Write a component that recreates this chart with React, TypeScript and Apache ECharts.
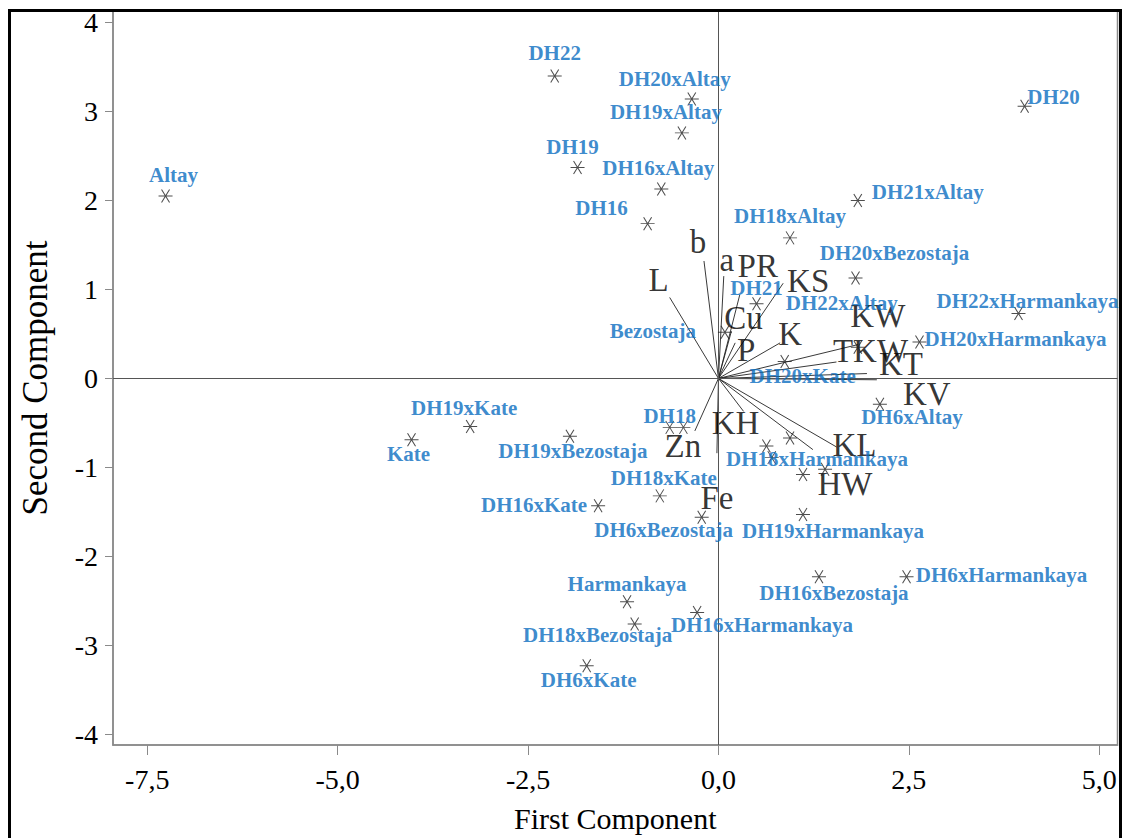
import React, { useEffect, useRef } from "react";
import * as echarts from "echarts";

// Genotype scores (first and second principal components)
const genotypes = [
  "Altay", "DH22", "DH20xAltay", "DH19xAltay", "DH19", "DH16xAltay", "DH16",
  "DH18xAltay", "DH20", "DH21xAltay", "DH20xBezostaja", "DH21", "DH22xAltay",
  "DH22xHarmankaya", "DH20xHarmankaya", "Bezostaja", "DH20xKate", "DH6xAltay",
  "DH19xKate", "Kate", "DH19xBezostaja", "DH18", "DH18xHarmankaya", "DH18xKate",
  "DH16xKate", "DH6xBezostaja", "DH19xHarmankaya", "Harmankaya", "DH16xBezostaja",
  "DH6xHarmankaya", "DH18xBezostaja", "DH16xHarmankaya", "DH6xKate",
];
const pc1 = [
  -7.26, -2.15, -0.35, -0.48, -1.85, -0.75, -0.93,
  0.94, 4.02, 1.83, 1.80, 0.50, 1.83,
  3.94, 2.64, 0.085, 0.87, 2.12,
  -3.26, -4.03, -1.95, -0.64, 1.11, -0.77,
  -1.58, -0.22, 1.11, -1.20, 1.32,
  2.47, -1.10, -0.28, -1.73,
];
const pc2 = [
  2.05, 3.40, 3.14, 2.76, 2.37, 2.13, 1.74,
  1.58, 3.06, 2.00, 1.13, 0.84, 0.35,
  0.73, 0.41, 0.52, 0.19, -0.29,
  -0.54, -0.69, -0.65, -0.55, -1.08, -1.32,
  -1.43, -1.56, -1.53, -2.51, -2.23,
  -2.23, -2.76, -2.63, -3.23,
];
// label placement (pixels, relative to the point)
const genotypeLabelOffsets = [
  [8, -21], [0, -23], [-17, -20], [-16, -21], [-5, -21], [-3, -21], [-46, -16],
  [0, -22], [29, -9], [70, -9], [39, -25], [0, -16], [-16, -44],
  [9, -12], [96, -3], [-72, -1], [18, 14], [32, 13],
  [-6, -18], [-3, 14], [3, 15], [0, -11], [14, -16], [4, -18],
  [-64, -1], [-38, 13], [30, 16], [0, -18], [15, 16],
  [95, -2], [-37, 11], [65, 13], [2, 14],
];

// Points without visible labels
const unlabeledPc1 = [-0.46, 0.63, 0.94, 0.70, 1.40];
const unlabeledPc2 = [-0.55, -0.76, -0.67, -0.89, -1.02];

// Trait loading vectors
const traits = ["L", "b", "a", "PR", "KS", "Cu", "P", "K", "KW", "TKW", "KT", "KV", "KH", "KL", "HW", "Zn", "Fe"];
const traitX = [-0.64, -0.19, 0.07, 0.28, 0.85, 0.17, 0.22, 0.81, 1.83, 1.55, 1.95, 2.08, 0.33, 1.55, 1.24, -0.31, -0.02];
const traitY = [0.91, 1.32, 1.15, 0.94, 1.07, 0.53, 0.40, 0.40, 0.38, 0.185, 0.055, -0.015, -0.37, -0.77, -0.80, -0.59, -0.84];
const traitLabelOffsets = [
  [-11, -17], [-6, -19], [3, -16], [18, -29], [25, -2], [12, -13], [11, 7], [10, -9],
  [20, -29], [34, -11], [34, -10], [50, 14], [-8, 12], [18, -2], [32, 34], [-12, 15], [0, 45],
];

const xTicks = [-7.5, -5, -2.5, 0, 2.5, 5];
const yTicks = [-4, -3, -2, -1, 0, 1, 2, 3, 4];

const SERIF = "Liberation Serif";
const BLUE = "#0a6dbf";
const ASTERISK = "path://M0,7L14,7M3,0L11,14M3,14L11,0";

export default function App() {
  const ref = useRef<HTMLDivElement>(null);
  useEffect(() => {
    if (!ref.current) return;
    const chart = echarts.init(ref.current, null, { renderer: "svg" });
    const option: any = {
      animation: false,
      backgroundColor: "#fff",
      grid: {
        left: 113,
        right: 8.5,
        top: 11,
        bottom: 90,
        show: true,
        borderColor: "#8a8a8a",
        borderWidth: 1.5,
      },
      xAxis: {
        type: "value",
        min: -7.95,
        max: 5.24,
        name: "First Component",
        nameLocation: "middle",
        nameGap: 58,
        nameTextStyle: { fontFamily: SERIF, fontSize: 30, color: "#000" },
        axisLine: { show: true, onZero: false, lineStyle: { color: "#8a8a8a", width: 1.5 } },
        axisTick: { show: true, length: 10, customValues: xTicks, lineStyle: { color: "#8a8a8a" } },
        axisLabel: {
          customValues: xTicks,
          margin: 20,
          fontFamily: SERIF,
          fontSize: 28,
          color: "#000",
          formatter: (v: number) => v.toFixed(1).replace(".", ","),
        },
        splitLine: { show: false },
      },
      yAxis: {
        type: "value",
        min: -4.12,
        max: 4.13,
        name: "Second Component",
        nameLocation: "middle",
        nameGap: 60,
        nameTextStyle: { fontFamily: SERIF, fontSize: 35, color: "#000" },
        axisLine: { show: true, onZero: false, lineStyle: { color: "#8a8a8a", width: 1.5 } },
        axisTick: { show: true, length: 8, customValues: yTicks, lineStyle: { color: "#8a8a8a" } },
        axisLabel: {
          customValues: yTicks,
          margin: 15,
          fontFamily: SERIF,
          fontSize: 28,
          color: "#000",
          formatter: (v: number) => String(Math.round(v)),
        },
        splitLine: { show: false },
      },
      series: [
        {
          type: "lines",
          coordinateSystem: "cartesian2d",
          silent: true,
          z: 3,
          lineStyle: { color: "#222", width: 0.9, opacity: 1 },
          data: traits.map((t, i) => ({ name: t, coords: [[0, 0], [traitX[i], traitY[i]]] })),
        },
        {
          type: "scatter",
          silent: true,
          z: 4,
          symbolSize: 1,
          itemStyle: { color: "transparent" },
          label: {
            show: true,
            position: "inside",
            align: "center",
            verticalAlign: "middle",
            fontFamily: SERIF,
            fontSize: 33,
            color: "#000",
            formatter: (p: any) => p.name,
          },
          markLine: {
            silent: true,
            symbol: ["none", "none"],
            label: { show: false },
            lineStyle: { color: "#555", type: "solid", width: 1 },
            data: [{ xAxis: 0 }, { yAxis: 0 }],
          },
          data: traits.map((t, i) => ({
            name: t,
            value: [traitX[i], traitY[i]],
            label: { offset: traitLabelOffsets[i] },
          })),
        },
        {
          type: "scatter",
          silent: true,
          z: 5,
          symbol: ASTERISK,
          symbolSize: [14, 13],
          itemStyle: { color: "none", borderColor: "#222", borderWidth: 1 },
          label: {
            show: true,
            position: "inside",
            align: "center",
            verticalAlign: "middle",
            fontFamily: SERIF,
            fontWeight: "bold",
            fontSize: 21,
            color: BLUE,
            formatter: (p: any) => p.name,
          },
          data: genotypes.map((g, i) => ({
            name: g,
            value: [pc1[i], pc2[i]],
            label: { offset: genotypeLabelOffsets[i] },
          })),
        },
        {
          type: "scatter",
          silent: true,
          z: 5,
          symbol: ASTERISK,
          symbolSize: [14, 13],
          itemStyle: { color: "none", borderColor: "#222", borderWidth: 1 },
          data: unlabeledPc1.map((x, i) => [x, unlabeledPc2[i]]),
        },
      ],
      graphic: [
        {
          type: "rect",
          silent: true,
          z: 100,
          shape: { x: 9.5, y: 10.5, width: 1111, height: 900 },
          style: { fill: "none", stroke: "#000", lineWidth: 3 },
        },
      ],
    };
    chart.setOption(option);
    return () => chart.dispose();
  }, []);
  return (
    <div
      ref={ref}
      style={{ position: "absolute", left: 0, top: 0, width: 1126, height: 838 }}
    />
  );
}
